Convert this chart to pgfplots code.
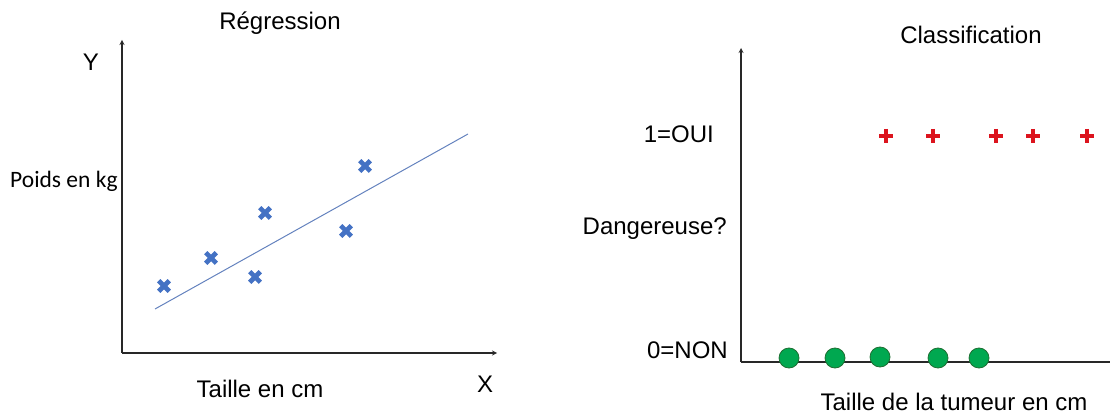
\documentclass[border=0pt]{standalone}
\usepackage{pgfplots}
\pgfplotsset{compat=1.18}
\usepackage{fontspec}
\setmainfont{Liberation Sans}
\newfontfamily\calibri{Carlito}
\definecolor{xblue}{RGB}{68,114,196}
\definecolor{lineblue}{RGB}{100,130,190}
\definecolor{pred}{RGB}{220,20,30}
\definecolor{pgreen}{RGB}{0,168,80}
\definecolor{pgreenedge}{RGB}{30,110,50}
\definecolor{axgray}{RGB}{40,40,40}

\pgfplotsset{
  sketch/.style={
    x=1pt, y=1pt, scale only axis, clip=false,
    axis lines=left, ticks=none,
    axis line style={axgray, line width=1.2pt, -stealth},
  },
}

\begin{document}
\begin{tikzpicture}
\path[use as bounding box] (0,0) rectangle (1110pt,415pt);

% left: regression
\begin{axis}[sketch, anchor=south west, at={(122pt,62pt)},
    xmin=122, xmax=497, ymin=62, ymax=375]
\addplot[only marks, mark=x, mark size=7.5pt, xblue,
    mark options={line width=4.6pt}]
    coordinates {(164,129) (211,157) (255,138) (265,202) (346,184) (365,249)};
\addplot[lineblue, line width=1pt] coordinates {(155,106) (468,281)};
\node[anchor=base, inner sep=0, font=\fontsize{24}{28}\selectfont] at (axis cs:280,385) {Régression};
\node[anchor=base, inner sep=0, font=\fontsize{24}{28}\selectfont] at (axis cs:91,344) {Y};
\node[anchor=base west, inner sep=0, font=\calibri\fontsize{23.5}{28}\selectfont] at (axis cs:10,227) {Poids en kg};
\node[anchor=base, inner sep=0, font=\fontsize{24}{28}\selectfont] at (axis cs:260,18) {Taille en cm};
\node[anchor=base, inner sep=0, font=\fontsize{24}{28}\selectfont] at (axis cs:485,23) {X};
\end{axis}

% right: classification
\begin{axis}[sketch, anchor=south west, at={(741pt,53pt)},
    xmin=741, xmax=1118, ymin=53, ymax=367]
\addplot[only marks, mark=+, mark size=7pt, pred,
    mark options={line width=4.6pt}]
    coordinates {(886,279) (933,279) (996,279) (1033,279) (1087,279)};
\addplot[only marks, mark=*, mark size=10pt,
    mark options={fill=pgreen, draw=pgreenedge, line width=0.8pt}]
    coordinates {(789,57) (835,57) (880,58) (938,57) (979,57)};
\node[anchor=base, inner sep=0, font=\fontsize{24}{28}\selectfont] at (axis cs:971,371) {Classification};
\node[anchor=base east, inner sep=0, font=\fontsize{24}{28}\selectfont] at (axis cs:714,272) {1=OUI};
\node[anchor=base east, inner sep=0, font=\fontsize{24}{28}\selectfont] at (axis cs:727,180) {Dangereuse?};
\node[anchor=base east, inner sep=0, font=\fontsize{24}{28}\selectfont] at (axis cs:728,57) {0=NON};
\node[anchor=base, inner sep=0, font=\fontsize{24}{28}\selectfont] at (axis cs:954,5) {Taille de la tumeur en cm};
\end{axis}
\end{tikzpicture}
\end{document}
